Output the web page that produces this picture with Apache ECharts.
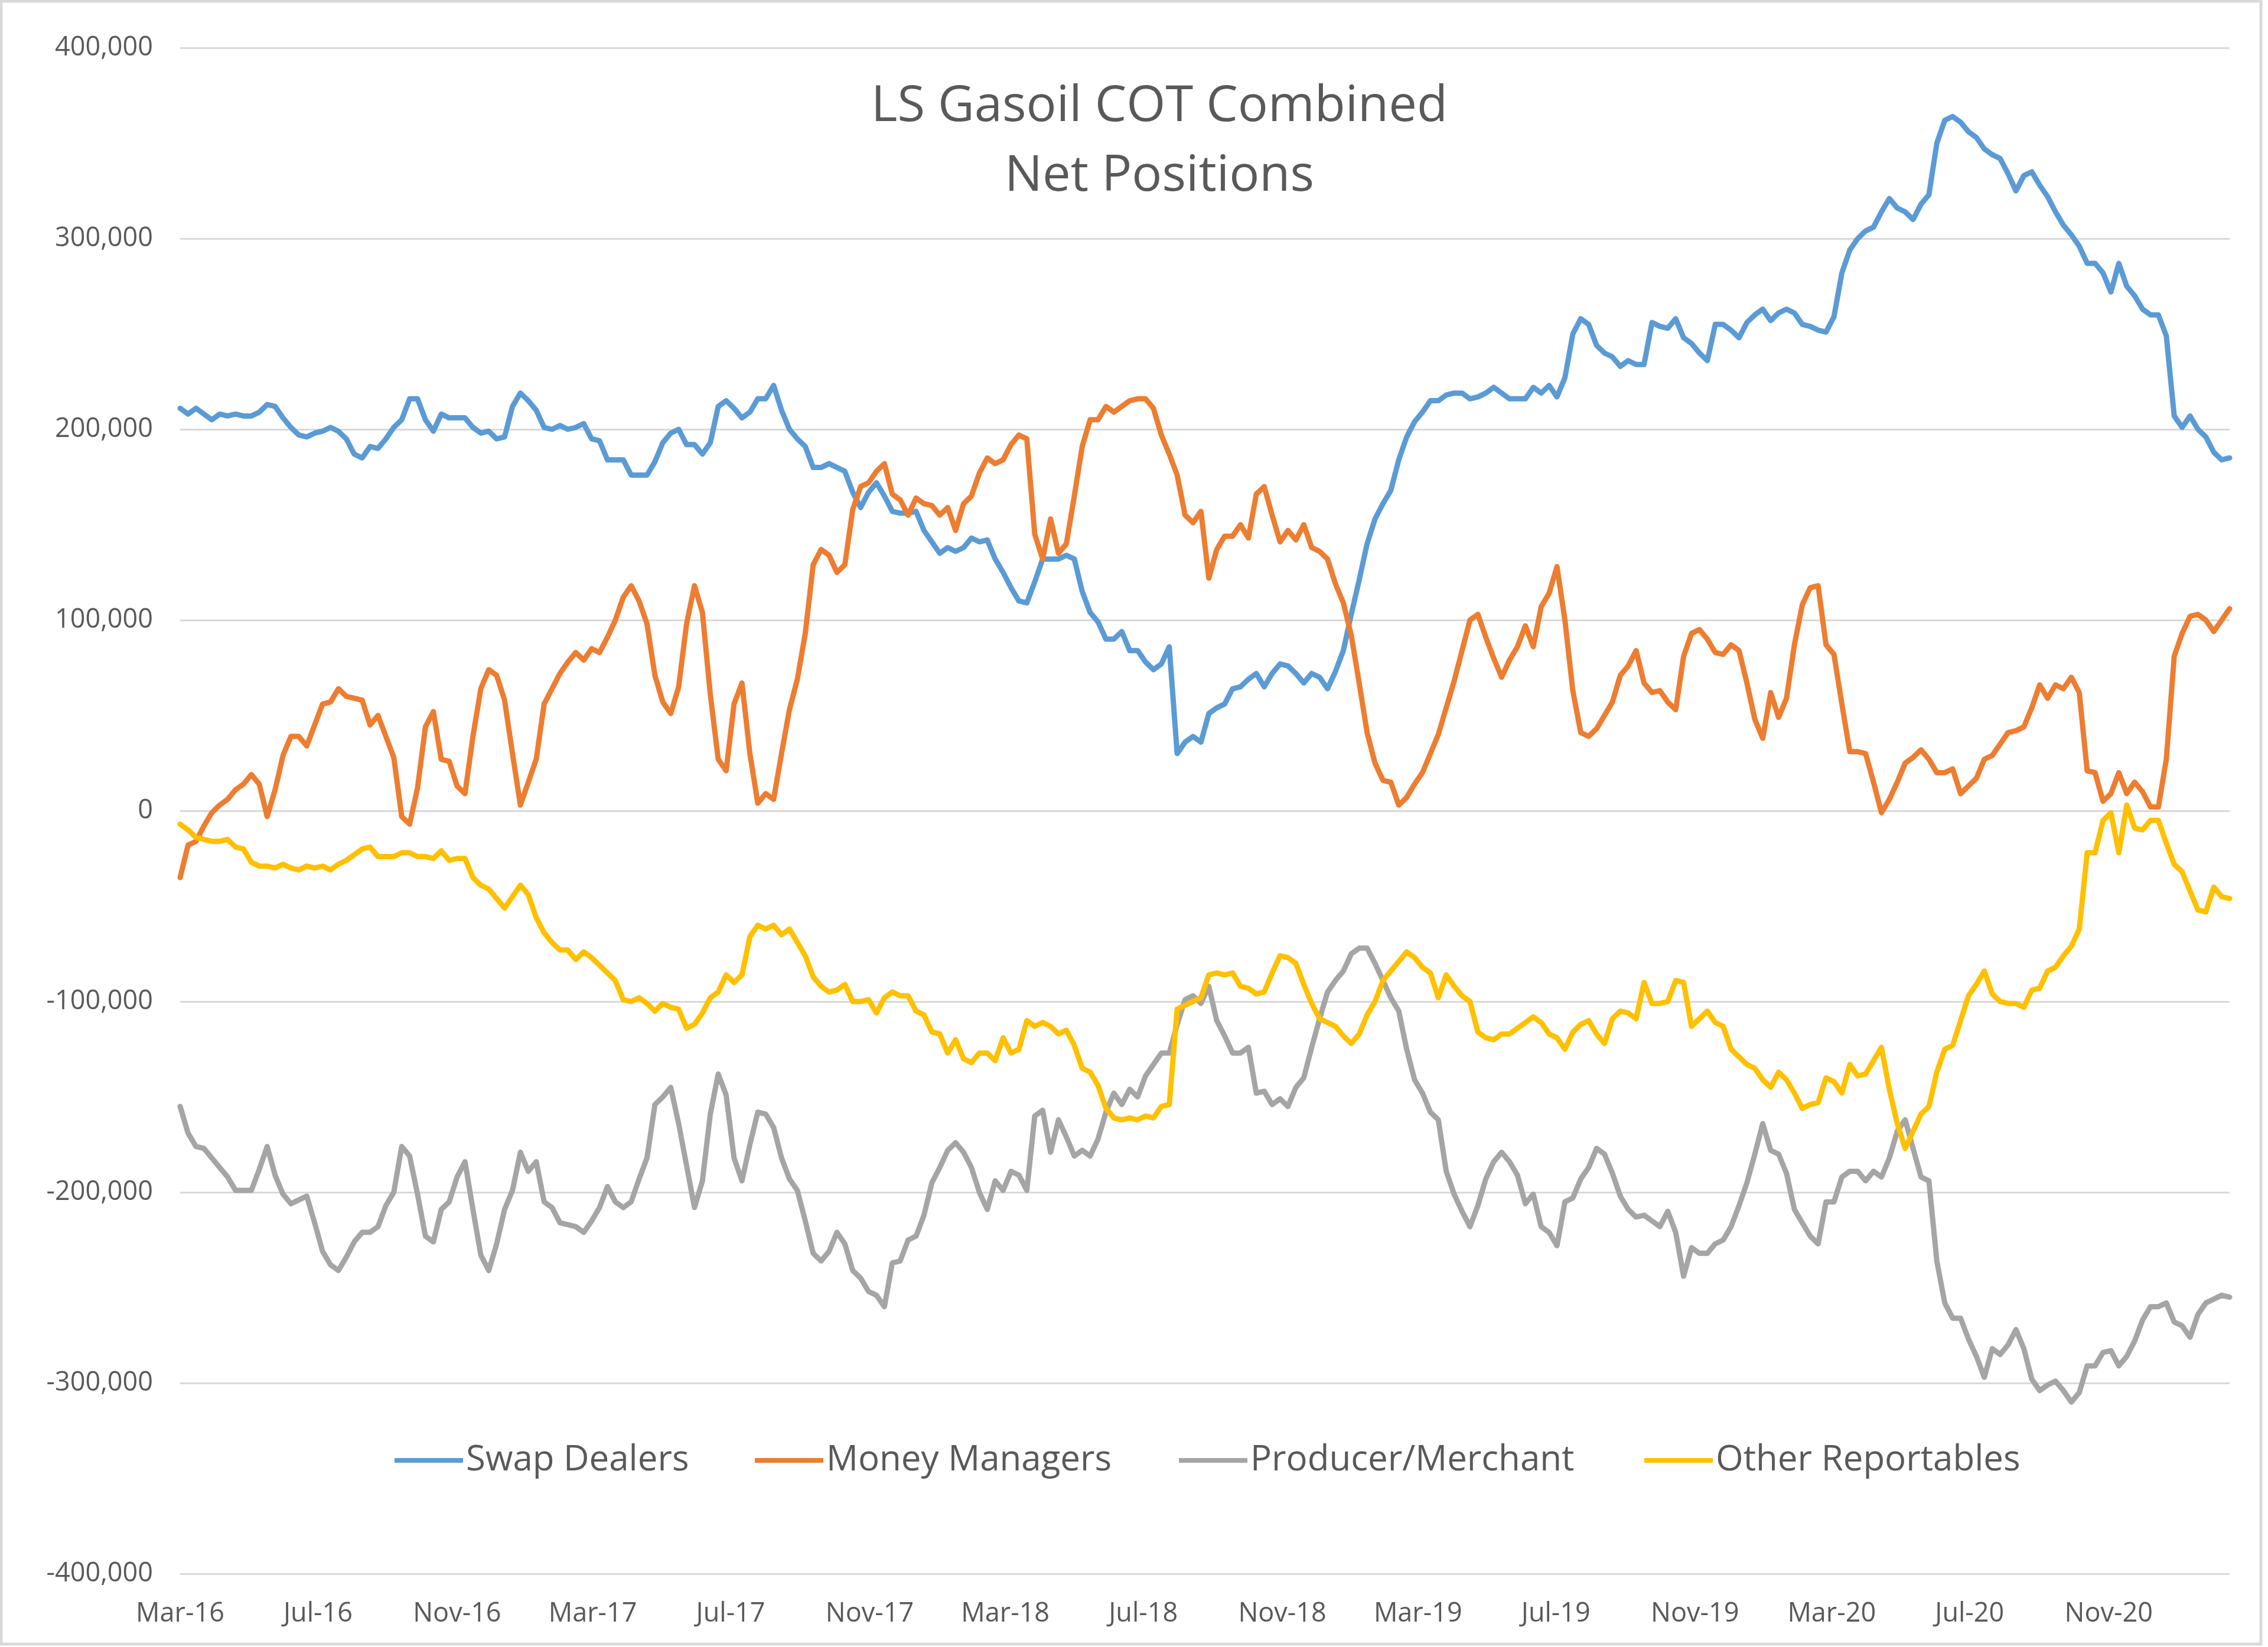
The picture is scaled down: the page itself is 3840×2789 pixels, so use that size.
<!DOCTYPE html>
<html>
<head>
<meta charset="utf-8">
<script src="https://cdn.jsdelivr.net/npm/echarts@6/dist/echarts.min.js"></script>
<style>
html,body{margin:0;padding:0;background:#fff;}
#chart{width:3840px;height:2789px;}
</style>
</head>
<body>
<div id="chart"></div>
<script>
// Weekly report dates: every Tuesday from 1 Mar 2016 (260 weeks), as day offsets from 1 Mar 2016
const START = Date.UTC(2016, 2, 1);
const DAY = 24 * 3600 * 1000;
const NWEEKS = 260;
const dayOffsets = [];
for (let i = 0; i < NWEEKS; i++) dayOffsets.push(i * 7);

// Net positions (thousand lots)
const swapDealers = [
211,208,211,208,205,208,207,208,207,207,
209,213,212,206,201,197,196,198,199,201,
199,195,187,185,191,190,195,201,205,216,
216,205,199,208,206,206,206,201,198,199,
195,196,212,219,215,210,201,200,202,200,
201,203,195,194,184,184,184,176,176,176,
183,193,198,200,192,192,187,193,212,215,
211,206,209,216,216,223,210,200,195,191,
180,180,182,180,178,167,159,167,
172,165,157,156,156,157,147,141,135,138,
136,138,143,141,142,132,125,117,110,109,
120,132,132,132,134,132,115,104,99,90,
90,94,84,84,78,74,77,86,30,36,
39,36,51,54,56,64,65,69,72,65,
72,77,76,72,67,72,70,64,73,84,
103,121,140,153,161,168,184,196,204,209,
215,215,218,219,219,216,217,219,222,219,
216,216,216,222,219,223,
217,227,250,258,255,244,240,238,233,236,
234,234,256,254,253,258,248,245,240,236,
255,255,252,248,256,260,263,257,261,263,
261,255,254,252,251,259,282,294,300,304,
306,314,321,316,314,310,318,323,350,362,
364,361,356,353,347,344,342,334,325,333,
335,328,322,314,307,302,296,287,287,282,
272,287,275,270,263,260,260,249,207,201,
207,200,196,188,184,185
];
const moneyManagers = [
-35,-18,-16,-8,-1,3,6,11,14,19,
14,-3,11,29,39,39,34,45,56,57,
64,60,59,58,45,50,39,28,-3,-7,
12,44,52,27,26,13,9,39,64,74,
71,58,30,3,15,27,56,64,72,78,
83,79,85,83,91,100,112,118,110,98,
71,57,51,65,98,118,104,61,27,21,
56,67,30,4,9,6,30,53,69,93,
129,137,134,125,129,158,170,172,
178,182,166,163,155,164,161,160,155,159,
147,161,165,177,185,182,184,192,197,195,
145,132,153,135,140,165,191,205,205,212,
209,212,215,216,216,211,197,187,176,155,
151,157,122,137,144,144,150,143,166,170,
155,141,147,142,150,138,136,132,119,109,
92,67,41,25,16,15,3,7,14,20,
30,40,54,68,84,100,103,91,80,70,
79,86,97,86,107,114,
128,100,63,41,39,43,50,57,71,76,
84,67,62,63,57,53,81,93,95,90,
83,82,87,84,67,48,38,62,49,59,
87,108,117,118,87,82,56,31,31,30,
15,-1,6,15,25,28,32,27,20,20,
22,9,13,17,27,29,35,41,42,44,
54,66,59,66,64,70,62,21,20,5,
9,20,9,15,10,2,2,27,81,93,
102,103,100,94,100,106
];
const producerMerchant = [
-155,-169,-176,-177,-182,-187,-192,-199,-199,-199,
-188,-176,-191,-201,-206,-204,-202,-216,-231,-238,
-241,-234,-226,-221,-221,-218,-207,-200,-176,-181,
-201,-223,-226,-209,-205,-192,-184,-209,-233,-241,
-227,-209,-199,-179,-189,-184,-205,-208,-216,-217,
-218,-221,-215,-208,-197,-205,-208,-205,-193,-182,
-154,-150,-145,-164,-186,-208,-194,-159,-138,-149,
-182,-194,-175,-158,-159,-166,-182,-193,-199,-215,
-232,-236,-231,-221,-227,-241,-245,-252,
-254,-260,-237,-236,-225,-223,-212,-195,-187,-178,
-174,-179,-187,-200,-209,-194,-199,-189,-191,-199,
-160,-157,-179,-162,-171,-181,-178,-181,-172,-158,
-148,-154,-146,-150,-139,-133,-127,-127,-112,-99,
-97,-101,-92,-110,-118,-127,-127,-124,-148,-147,
-154,-151,-155,-145,-140,-124,-109,-95,-89,-84,
-75,-72,-72,-80,-89,-98,-105,-125,-141,-148,
-158,-162,-189,-201,-210,-218,-207,-193,-184,-179,
-184,-191,-206,-201,-218,-221,
-228,-205,-203,-193,-187,-177,-180,-190,-202,-209,
-213,-212,-215,-218,-210,-221,-244,-229,-232,-232,
-227,-225,-218,-207,-195,-180,-164,-178,-180,-190,
-209,-216,-223,-227,-205,-205,-192,-189,-189,-194,
-189,-192,-182,-168,-162,-177,-192,-194,-236,-258,
-266,-266,-277,-286,-297,-282,-285,-280,-272,-282,
-298,-304,-301,-299,-304,-310,-305,-291,-291,-284,
-283,-291,-286,-278,-267,-260,-260,-258,-268,-270,
-276,-264,-258,-256,-254,-255
];
const otherReportables = [
-7,-10,-14,-15,-16,-16,-15,-19,-20,-27,
-29,-29,-30,-28,-30,-31,-29,-30,-29,-31,
-28,-26,-23,-20,-19,-24,-24,-24,-22,-22,
-24,-24,-25,-21,-26,-25,-25,-35,-39,-41,
-46,-51,-45,-39,-44,-56,-64,-69,-73,-73,
-78,-74,-77,-81,-85,-89,-99,-100,-98,-101,
-105,-101,-103,-104,-114,-112,-106,-98,-95,-86,
-90,-86,-66,-60,-62,-60,-65,-62,-69,-76,
-87,-92,-95,-94,-91,-100,-100,-99,
-106,-98,-95,-97,-97,-105,-107,-116,-117,-127,
-120,-130,-132,-127,-127,-131,-119,-127,-125,-110,
-113,-111,-113,-117,-115,-123,-135,-137,-144,-156,
-161,-162,-161,-162,-160,-161,-155,-154,-104,-102,
-100,-98,-86,-85,-86,-85,-92,-93,-96,-95,
-85,-76,-77,-80,-91,-101,-109,-111,-113,-118,
-122,-117,-107,-100,-89,-84,-79,-74,-77,-82,
-85,-98,-86,-92,-97,-100,-116,-119,-120,-117,
-117,-114,-111,-108,-111,-117,
-119,-125,-116,-112,-110,-117,-122,-109,-105,-106,
-109,-90,-101,-101,-100,-89,-90,-113,-109,-105,
-111,-113,-125,-129,-133,-135,-141,-145,-137,-141,
-148,-156,-154,-153,-140,-142,-148,-133,-139,-138,
-131,-124,-146,-164,-177,-168,-159,-155,-137,-125,
-123,-110,-97,-91,-84,-96,-100,-101,-101,-103,
-94,-93,-84,-82,-76,-71,-62,-22,-22,-5,
-1,-22,3,-9,-10,-5,-5,-17,-28,-32,
-42,-52,-53,-40,-45,-46
];

// Axis ticks
const xTickLabels = ['Mar-16','Jul-16','Nov-16','Mar-17','Jul-17','Nov-17','Mar-18','Jul-18',
  'Nov-18','Mar-19','Jul-19','Nov-19','Mar-20','Jul-20','Nov-20'];
const xTickMonths = [
  [2016,2],[2016,6],[2016,10],[2017,2],[2017,6],[2017,10],[2018,2],[2018,6],
  [2018,10],[2019,2],[2019,6],[2019,10],[2020,2],[2020,6],[2020,10]
];
const xTickDays = xTickMonths.map(d => Math.round((Date.UTC(d[0], d[1], 1) - START) / DAY));
const yTicks = [-400, -300, -200, -100, 0, 100, 200, 300, 400]; // thousands

const seriesNames = ['Swap Dealers', 'Money Managers', 'Producer/Merchant', 'Other Reportables'];
const seriesValues = [swapDealers, moneyManagers, producerMerchant, otherReportables];
const colors = ['#5B9BD5', '#ED7D31', '#A5A5A5', '#FFC000'];
const legendLeft = [668, 1278, 1996, 2784];

const FONT = "'Open Sans', 'Noto Sans', sans-serif";
const TXT = '#595959';

const chart = echarts.init(document.getElementById('chart'), null, {renderer: 'canvas'});

const option = {
  animation: false,
  backgroundColor: '#ffffff',
  textStyle: {fontFamily: FONT},
  title: {
    text: 'LS Gasoil COT Combined\nNet Positions',
    left: 1958,
    top: 117,
    textAlign: 'center',
    textStyle: {fontFamily: FONT, fontSize: 85, fontWeight: 'normal', color: TXT, lineHeight: 118}
  },
  legend: seriesNames.map((n, i) => ({
    data: [n],
    left: legendLeft[i],
    top: 2438,
    icon: 'rect',
    itemWidth: 116,
    itemHeight: 8,
    padding: 0,
    textStyle: {fontFamily: FONT, fontSize: 60, color: TXT, lineHeight: 70}
  })),
  grid: {left: 305, right: 65, top: 81, bottom: 124, containLabel: false},
  xAxis: {
    type: 'value',
    min: 0,
    max: dayOffsets[dayOffsets.length - 1],
    axisLine: {show: false},
    axisTick: {show: false},
    splitLine: {show: false},
    axisLabel: {
      customValues: xTickDays,
      formatter: function (v) {
        const idx = xTickDays.indexOf(v);
        return idx >= 0 ? xTickLabels[idx] : '';
      },
      fontFamily: FONT, fontSize: 45, color: TXT, margin: 46
    }
  },
  yAxis: {
    type: 'value',
    min: yTicks[0],
    max: yTicks[yTicks.length - 1],
    interval: 100,
    axisLine: {show: false},
    axisTick: {show: false},
    splitLine: {lineStyle: {color: '#D9D9D9', width: 3}},
    axisLabel: {
      formatter: v => (v * 1000).toLocaleString('en-US'),
      fontFamily: FONT, fontSize: 45, color: TXT, margin: 46
    }
  },
  series: seriesNames.map((n, i) => ({
    name: n,
    type: 'line',
    showSymbol: false,
    symbol: 'none',
    data: dayOffsets.map((d, k) => [d, seriesValues[i][k]]),
    lineStyle: {color: colors[i], width: 9, cap: 'round', join: 'round'},
    itemStyle: {color: colors[i]}
  })),
  graphic: [{
    type: 'rect',
    shape: {x: 2, y: 2, width: 3826, height: 2782},
    style: {fill: 'none', stroke: '#D9D9D9', lineWidth: 5},
    silent: true,
    z: -1
  }]
};

chart.setOption(option);
</script>
</body>
</html>
